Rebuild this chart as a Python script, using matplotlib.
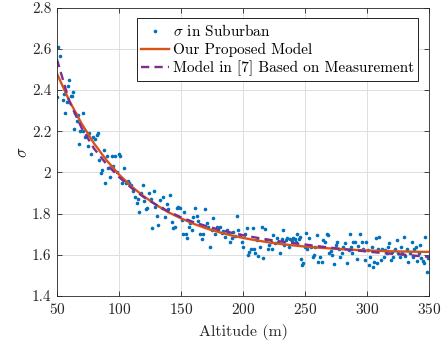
import matplotlib
matplotlib.use("Agg")
import matplotlib.pyplot as plt

plt.rcParams['font.family'] = ['cmr10', 'DejaVu Serif']
plt.rcParams['mathtext.fontset'] = 'cm'
plt.rcParams['axes.unicode_minus'] = False
plt.rcParams['axes.formatter.use_mathtext'] = True

alt_meas = [50, 51, 52.4, 54.6, 55.9, 56.7, 57.8, 58.6, 59.4, 61, 61.8, 62.6, 63.7, 64.8,
            65.9, 67.2, 67.7, 68.8, 70.7, 71.2, 72.6, 73.9, 74.7, 76, 77.2, 78.8, 80.4,
            82, 83.3, 84.1, 85.8, 86.3, 87.9, 89, 90, 91.4, 92.7, 94.1, 95.4, 96.8, 98.1,
            100, 100.8, 102.4, 104.3, 105.6, 107, 108.3, 109.7, 111, 112.9, 114.2, 115.6,
            116.4, 117.7, 119.1, 120.2, 121.5, 122.8, 124.2, 125.5, 126.6, 128.2, 129.3,
            130.4, 131.7, 133.1, 134.4, 135.8, 137.1, 138.4, 139.8, 141.1, 142.5, 143.8,
            145.2, 146.5, 147.8, 149.2, 150.5, 151.6, 152.7, 154, 155, 156.2, 157.3, 158.6,
            160, 161.3, 162.6, 164, 165.3, 166.7, 168, 169.4, 170.7, 172, 173.4, 174.7,
            176, 177.4, 178.8, 180.1, 181.5, 182.8, 184.1, 185.5, 186.8, 188.2, 189.5,
            190.9, 192.2, 193.5, 194.9, 196.2, 197.6, 198.9, 200.3, 201.6, 203, 203.8,
            205.1, 206.2, 207.8, 208.9, 210, 211, 212.4, 213.7, 215, 216.4, 217.5, 218.5,
            219.9, 221.2, 222.3, 223.4, 224.5, 225.8, 227.2, 228.5, 229.8, 231.2, 232,
            233.1, 234.4, 235.8, 236.8, 237.9, 239.2, 240.6, 241.9, 242.7, 243.8, 244.9,
            246, 246.8, 247.6, 248.7, 249.7, 250.8, 251.9, 253.5, 254.8, 256.2, 257.3,
            258.3, 259.4, 260.8, 262.1, 263.4, 264.8, 266.1, 267.5, 268.8, 269.6, 270.7,
            272, 273.4, 274.7, 276.1, 277.2, 278.2, 279.6, 280.9, 282.3, 283.6, 285,
            285.8, 286.8, 287.9, 289, 290.3, 291.7, 293, 294.4, 295.7, 297, 298.1, 299.2,
            300.3, 301.3, 302.4, 303.8, 304.6, 305.6, 307, 307.8, 308.9, 309.9, 311,
            312.1, 313.2, 314.5, 315.9, 317, 318, 319.1, 320.2, 321.2, 322.6, 323.9, 325,
            326.1, 327.2, 328.2, 329.6, 330.6, 332, 333.3, 334.7, 335.8, 336.8, 337.9,
            339, 340.1, 341.4, 342.7, 343.8, 344.9, 345.9, 347, 348.1, 349.2, 350]
sigma_meas = [2.367, 2.61, 2.564, 2.35, 2.38, 2.29, 2.34, 2.42, 2.45, 2.37, 2.37, 2.39, 2.21,
              2.29, 2.25, 2.28, 2.14, 2.20, 2.29, 2.20, 2.17, 2.18, 2.13, 2.19, 2.09, 2.17,
              2.16, 2.18, 2.19, 2.06, 1.998, 2.01, 2.11, 1.95, 2.08, 2.02, 1.98, 2.08, 2.03,
              2.08, 2.00, 2.09, 2.08, 1.95, 2.02, 1.95, 1.96, 1.95, 1.94, 1.91, 1.88, 1.85,
              1.87, 1.81, 1.90, 1.94, 1.86, 1.82, 1.825, 1.90, 1.87, 1.73, 1.91, 1.83, 1.79,
              1.745, 1.866, 1.825, 1.88, 1.785, 1.846, 1.82, 1.89, 1.76, 1.73, 1.736, 1.825,
              1.83, 1.825, 1.77, 1.70, 1.81, 1.70, 1.68, 1.736, 1.755, 1.72, 1.785, 1.825,
              1.787, 1.765, 1.70, 1.675, 1.70, 1.82, 1.755, 1.736, 1.64, 1.72, 1.777, 1.70,
              1.736, 1.72, 1.736, 1.707, 1.717, 1.685, 1.72, 1.704, 1.664, 1.68, 1.712, 1.69,
              1.787, 1.72, 1.696, 1.66, 1.64, 1.70, 1.728, 1.60, 1.615, 1.626, 1.728, 1.63,
              1.607, 1.672, 1.594, 1.64, 1.736, 1.583, 1.723, 1.672, 1.63, 1.647, 1.663,
              1.626, 1.696, 1.655, 1.68, 1.66, 1.61, 1.675, 1.72, 1.647, 1.672, 1.68, 1.64,
              1.675, 1.668, 1.68, 1.675, 1.66, 1.70, 1.675, 1.685, 1.578, 1.55, 1.558, 1.64,
              1.707, 1.63, 1.68, 1.636, 1.588, 1.60, 1.64, 1.696, 1.567, 1.588, 1.567, 1.672,
              1.66, 1.70, 1.696, 1.607, 1.62, 1.60, 1.555, 1.647, 1.66, 1.63, 1.59, 1.607,
              1.64, 1.655, 1.562, 1.623, 1.70, 1.64, 1.607, 1.66, 1.663, 1.578, 1.644, 1.70,
              1.663, 1.63, 1.575, 1.66, 1.623, 1.55, 1.59, 1.64, 1.542, 1.567, 1.68, 1.558,
              1.63, 1.685, 1.575, 1.63, 1.59, 1.623, 1.607, 1.64, 1.655, 1.575, 1.615, 1.59,
              1.63, 1.672, 1.607, 1.588, 1.64, 1.61, 1.685, 1.594, 1.63, 1.567, 1.607, 1.66,
              1.59, 1.626, 1.64, 1.572, 1.607, 1.647, 1.583, 1.572, 1.562, 1.688, 1.518,
              1.583, 1.594]

# model curves, sampled every 10 m
alt_model = list(range(50, 351, 10))
sigma_ours = [2.480, 2.348, 2.236, 2.140, 2.059, 1.990, 1.932, 1.884, 1.842, 1.806, 1.777,
              1.751, 1.729, 1.711, 1.695, 1.682, 1.671, 1.661, 1.653, 1.646, 1.640, 1.635,
              1.631, 1.627, 1.624, 1.621, 1.619, 1.617, 1.616, 1.615, 1.614]
sigma_ref7 = [2.550, 2.345, 2.215, 2.115, 2.040, 1.978, 1.925, 1.880, 1.843, 1.810, 1.782,
              1.759, 1.740, 1.723, 1.708, 1.695, 1.684, 1.674, 1.665, 1.657, 1.650, 1.642,
              1.635, 1.628, 1.622, 1.616, 1.610, 1.605, 1.600, 1.595, 1.590]

ink = '#262626'
fig = plt.figure(figsize=(4.48, 3.45), dpi=100)
ax = fig.add_axes([0.127, 0.142, 0.831, 0.836])

ax.plot(alt_meas, sigma_meas, '.', color='#0072BD', markersize=3.2, label=r'$\sigma$ in Suburban')
ax.plot(alt_model, sigma_ours, '-', color='#D95319', lw=1.7, label='Our Proposed Model')
ax.plot(alt_model, sigma_ref7, '--', color='#7E2F8E', lw=1.7, dashes=(3.5, 2.2),
        label='Model in [7] Based on Measurement')

ax.set_xlim(50, 350)
ax.set_ylim(1.4, 2.8)
ax.set_xticks(range(50, 351, 50))
yt = [1.4, 1.6, 1.8, 2.0, 2.2, 2.4, 2.6, 2.8]
ax.set_yticks(yt)
ax.set_yticklabels(['1.4', '1.6', '1.8', '2', '2.2', '2.4', '2.6', '2.8'])
ax.grid(True, color='#dedede', lw=0.7)
ax.set_axisbelow(True)
ax.tick_params(direction='in', length=3.5, width=0.6, top=True, right=True,
               labelsize=11, colors=ink, pad=4)
for s in ax.spines.values():
    s.set_color(ink)
    s.set_linewidth(0.6)

ax.set_xlabel('Altitude (m)', fontsize=11.5, color=ink, labelpad=5)
ax.set_ylabel(r'$\sigma$', fontsize=12, color=ink, labelpad=1)

leg = ax.legend(loc='upper right', fontsize=11, fancybox=False, framealpha=1,
                edgecolor='black', handlelength=1.8, handletextpad=0.25,
                borderaxespad=0.7, borderpad=0.3, labelspacing=0.25)
leg.get_frame().set_linewidth(0.6)

fig.savefig('out.png', dpi=100)
